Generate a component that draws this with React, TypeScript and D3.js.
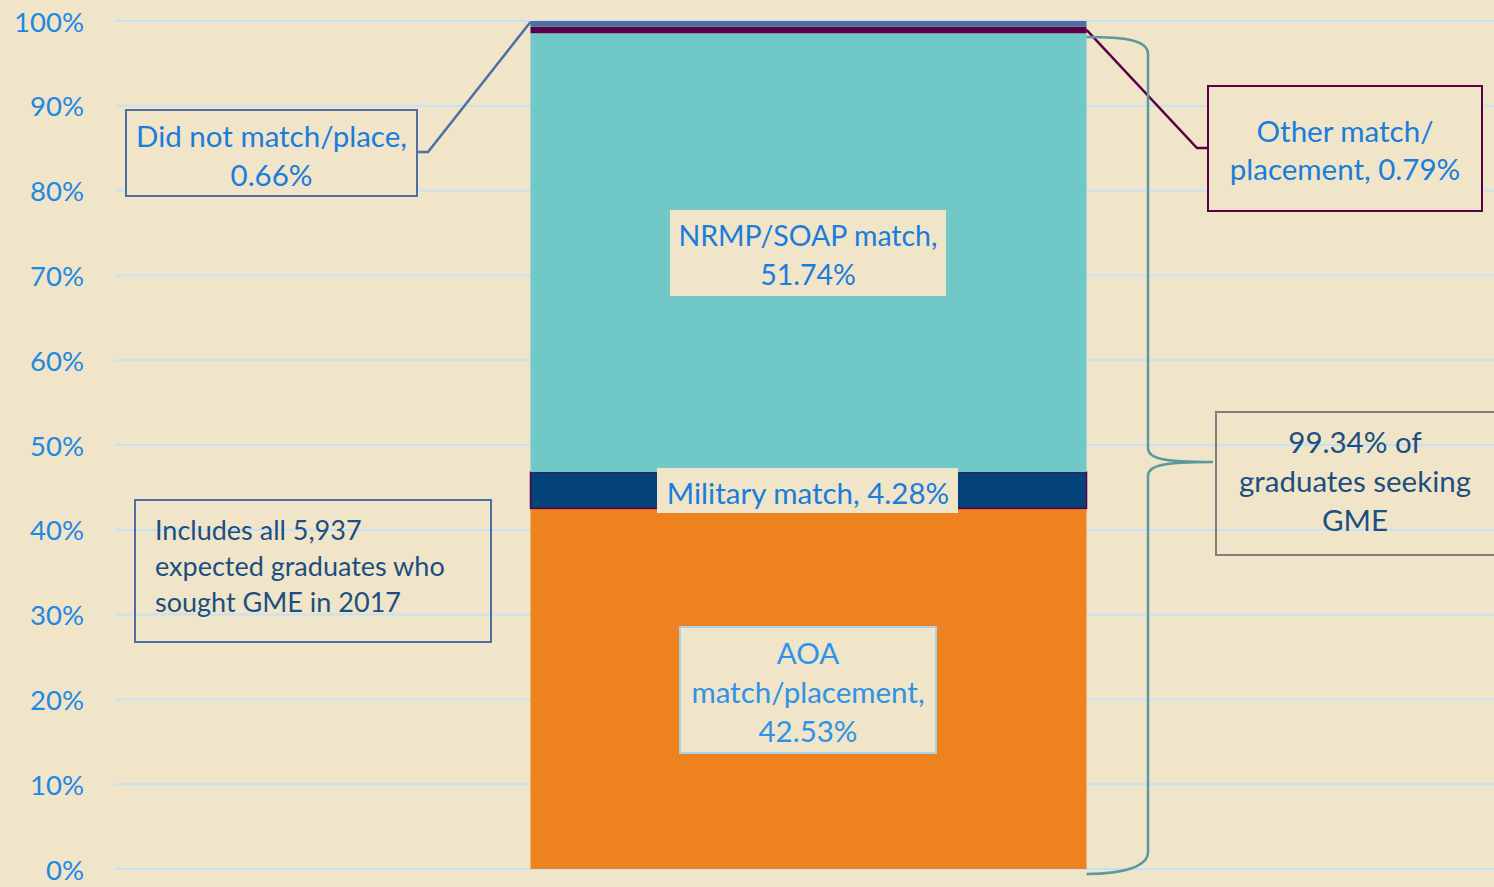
import React from "react";
import * as d3 from "d3";

const categories = ["AOA match/placement", "Military match", "NRMP/SOAP match", "Other match/placement", "Did not match/place"];
const values = [42.53, 4.28, 51.74, 0.79, 0.66];
const colors = ["#EE821E", "#03437A", "#70C9C7", "#5A0049", "#4A6FA0"];
const tickValues = [0, 10, 20, 30, 40, 50, 60, 70, 80, 90, 100];
const seekingShare = 99.34;
const totalGraduates = "5,937";

const W = 1494;
const H = 887;
const BG = "#F0E5C8";
const FONT = "Lato, 'Open Sans', sans-serif";
const LABEL_BLUE = "#1A7CDC";
const DARK_BLUE = "#1C4F80";

function Lines({ x, y, lines, gap, color, size, anchor = "middle" }: any) {
  return (
    <text x={x} fontFamily={FONT} fontSize={size} fill={color} textAnchor={anchor}>
      {lines.map((l: string, i: number) => (
        <tspan key={i} x={x} y={y + i * gap} dominantBaseline="central">{l}</tspan>
      ))}
    </text>
  );
}

export default function App() {
  const y = d3.scaleLinear().domain([0, 100]).range([869, 21]);
  const x = d3.scaleBand().domain(["2017"]).range([119, 1498]).paddingOuter(0.74).paddingInner(0);
  const row: any = { key: "2017" };
  categories.forEach((c, i) => (row[c] = values[i]));
  const stack = d3.stack().keys(categories)([row]);
  const bx = x("2017")!;
  const bw = x.bandwidth();
  const right = bx + bw;

  const segTop = (i: number) => y(stack[i][0][1]);
  const segBot = (i: number) => y(stack[i][0][0]);

  return (
    <svg width={W} height={H} style={{ position: "absolute", left: 0, top: 0, background: BG }}>
      <rect x={0} y={0} width={W} height={H} fill={BG} />
      {tickValues.map((t) => (
        <g key={t}>
          <line x1={115} x2={W} y1={y(t)} y2={y(t)} stroke="#C6E1F4" strokeWidth={2} />
          <text x={84} y={y(t)} dominantBaseline="central" textAnchor="end" fontFamily={FONT} fontSize={27.5} fill="#1E88E5">
            {t + "%"}
          </text>
        </g>
      ))}
      {stack.map((s, i) => (
        <rect
          key={categories[i]}
          x={bx}
          width={bw}
          y={y(s[0][1])}
          height={y(s[0][0]) - y(s[0][1])}
          fill={colors[i]}
          stroke={i === 1 ? "#5A0049" : "none"}
          strokeWidth={i === 1 ? 1.5 : 0}
        />
      ))}

      {/* Did not match leader + box */}
      <polyline points={`417,152 428,152 ${bx},${segTop(4) + 1}`} fill="none" stroke="#4A6FA0" strokeWidth={2.5} />
      <rect x={126} y={110} width={291} height={86} fill={BG} stroke="#4A6FA0" strokeWidth={2} />
      <Lines x={271.5} y={135} gap={39} lines={[`${categories[4]},`, `${values[4].toFixed(2)}%`]} color={LABEL_BLUE} size={29.5} />

      {/* Other match leader + box */}
      <polyline points={`${right},${(segTop(3) + segBot(3)) / 2} 1197,148 1208,148`} fill="none" stroke="#5A0049" strokeWidth={2.5} />
      <rect x={1208} y={86} width={274} height={125} fill={BG} stroke="#5A0049" strokeWidth={2} />
      <Lines x={1345} y={130} gap={38} lines={["Other match/", `placement, ${values[3].toFixed(2)}%`]} color={LABEL_BLUE} size={29.5} />

      {/* NRMP label */}
      <rect x={670} y={210} width={276} height={86} fill={BG} />
      <Lines x={808} y={235} gap={39} lines={[`${categories[2]},`, `${values[2].toFixed(2)}%`]} color={LABEL_BLUE} size={28.5} />

      {/* Military label */}
      <rect x={657} y={468} width={301} height={45} fill={BG} />
      <Lines x={808} y={492} gap={39} lines={[`${categories[1]}, ${values[1].toFixed(2)}%`]} color={LABEL_BLUE} size={29.5} />

      {/* AOA label */}
      <rect x={680} y={627} width={256} height={126} fill={BG} stroke="#A9D2F0" strokeWidth={2} />
      <Lines x={808} y={652} gap={39} lines={["AOA", "match/placement,", `${values[0].toFixed(2)}%`]} color="#2E93E6" size={29.5} />

      {/* Includes box */}
      <rect x={135} y={500} width={356} height={142} fill="none" stroke="#4A6FA0" strokeWidth={2} />
      <Lines x={155} y={529} gap={36} anchor="start" lines={[`Includes all ${totalGraduates}`, "expected graduates who", "sought GME in 2017"]} color={DARK_BLUE} size={27} />

      {/* Brace */}
      <path
        d={`M${right},37 C1125,37 1148,40 1148,54 L1148,448 C1148,458 1160,462 1213,462 C1160,462 1148,466 1148,476 L1148,852 C1148,866 1125,874 ${right},874`}
        fill="none"
        stroke="#5B9A9C"
        strokeWidth={2.5}
      />
      <rect x={1216} y={412} width={290} height={143} fill="none" stroke="#7F7F7F" strokeWidth={2} />
      <Lines x={1355} y={441} gap={39} lines={[`${seekingShare.toFixed(2)}% of`, "graduates seeking", "GME"]} color={DARK_BLUE} size={29.5} />
    </svg>
  );
}
